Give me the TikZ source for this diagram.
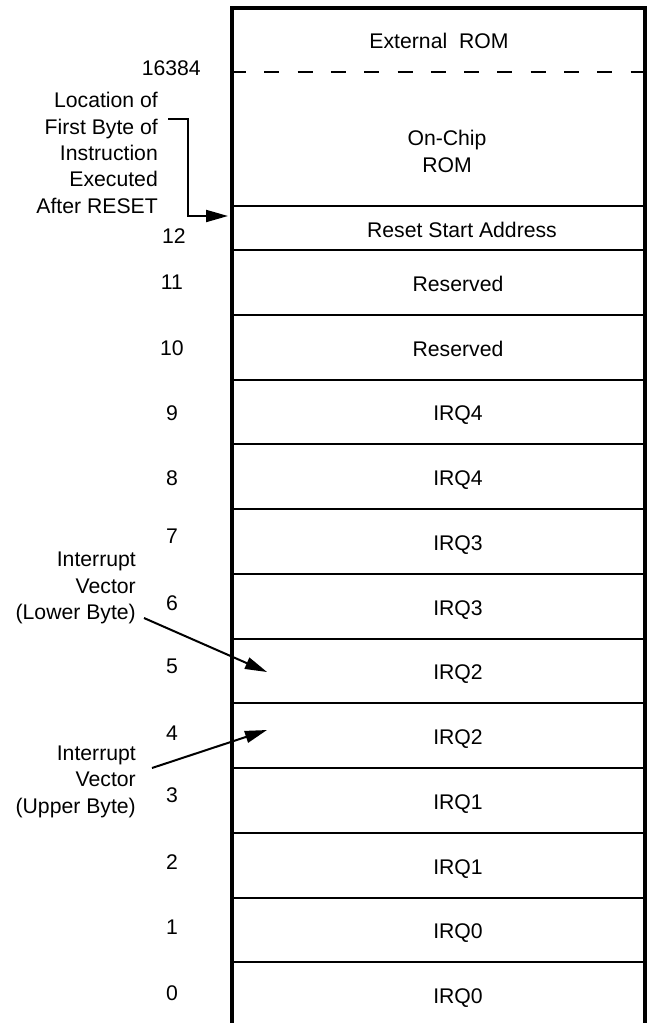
\documentclass[tikz,border=0pt]{standalone}
\usepackage{fontspec}
\setmainfont{Liberation Sans}
\usetikzlibrary{arrows.meta}
\newcommand\lblfont{\fontsize{21.2pt}{26.3pt}\selectfont}
\begin{document}
\begin{tikzpicture}[x=1pt,y=-1pt,
  txt/.style={inner sep=0pt, font=\lblfont},
  border/.style={line width=4pt},
  sepline/.style={line width=2pt},
  pointer/.style={line width=2pt, -{Triangle[length=22pt,width=12pt]}}]
\useasboundingbox (0,0) rectangle (648,1023);
\fill[white] (0,0) rectangle (648,1023);
% memory box
\draw[border] (232,1023) -- (232,8) -- (645,8) -- (645,1023);
\draw[sepline, dash pattern=on 15pt off 18.3pt, dash phase=3pt] (234,72) -- (643,72);
\draw[sepline] (234,206) -- (643,206);
\foreach \k in {0,...,11} \draw[sepline] (234,{250+64.75*\k}) -- (643,{250+64.75*\k});
% region labels
\node[txt, anchor=base] (ext) at (439,48) {External~~ROM};
\node[txt, anchor=base, align=center] (onchip) at (447,172) {On-Chip\\ROM};
\node[txt, anchor=base] (reset) at (462,237) {Reset Start Address};
\foreach \t [count=\i from 0] in {Reserved,Reserved,IRQ4,IRQ4,IRQ3,IRQ3,IRQ2,IRQ2,IRQ1,IRQ1,IRQ0,IRQ0}
  \node[txt, anchor=base] (row\i) at (458,{250+64.75*(\i+0.5)+9}) {\t};
% addresses
\node[txt, anchor=base east] (a16384) at (201,75) {16384};
\node[txt, anchor=base] (a12) at (174,243) {12};
\foreach \n/\yb in {11/289.5,10/355.5,9/420.5,8/485.5,7/543,6/610,5/673,4/740,3/802,2/869.5,1/934.5,0/1000.5}
  \node[txt, anchor=base] (a\n) at (172,\yb) {\n};
% annotations
\node[txt, anchor=base east, align=right] (loc) at (158,213) {Location of\\First Byte of\\Instruction\\Executed\\After RESET};
\node[txt, anchor=base east, align=right] (lower) at (136,619.5) {Interrupt\\Vector\\(Lower Byte)};
\node[txt, anchor=base east, align=right] (upper) at (136,813) {Interrupt\\Vector\\(Upper Byte)};
\coordinate (locstub) at (168,119);
\coordinate (resettip) at (228,216);
\coordinate (lowstart) at (144,618);
\coordinate (lowtip) at (267,672);
\coordinate (upstart) at (152,768);
\coordinate (uptip) at (267,730);
\draw[pointer] (locstub) -- ++(20,0) |- (resettip);
\draw[pointer] (lowstart) -- (lowtip);
\draw[pointer] (upstart) -- (uptip);
\end{tikzpicture}
\end{document}
